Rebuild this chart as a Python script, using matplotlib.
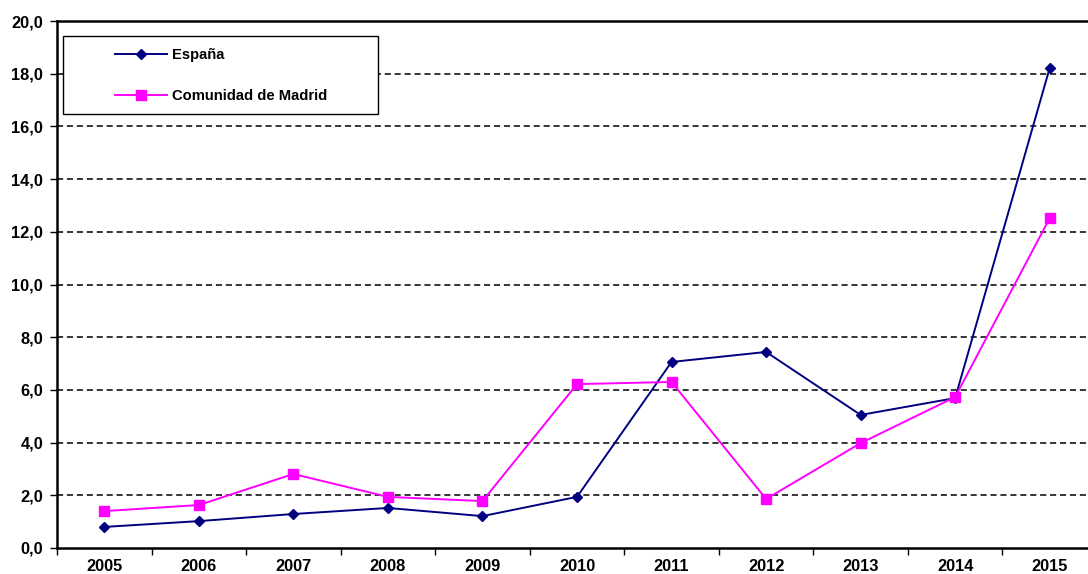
import matplotlib

matplotlib.use("Agg")
import matplotlib.pyplot as plt  # noqa: E402
import numpy as np  # noqa: E402
from matplotlib.patches import Rectangle  # noqa: E402
from matplotlib.ticker import FixedLocator, FuncFormatter  # noqa: E402

years = ["2005", "2006", "2007", "2008", "2009", "2010", "2011", "2012", "2013", "2014", "2015"]
espana = [0.80, 1.02, 1.29, 1.52, 1.21, 1.94, 7.06, 7.44, 5.05, 5.69, 18.22]
madrid = [1.40, 1.63, 2.81, 1.94, 1.78, 6.22, 6.30, 1.86, 3.98, 5.73, 12.52]

plt.rcParams["font.family"] = ["Liberation Sans", "DejaVu Sans"]

W, H = 1088, 574
fig = plt.figure(figsize=(W / 100, H / 100), dpi=100)
# plot area runs slightly past the right edge of the image
ax = fig.add_axes([57 / W, 1 - 548 / H, 1040 / W, 527 / H])

x = np.arange(len(years))
ax.plot(x, espana, color="#000080", marker="D", markersize=5.5, linewidth=1.4,
        label="España", clip_on=False, zorder=3)
ax.plot(x, madrid, color="#FF00FF", marker="s", markersize=7, linewidth=1.4,
        label="Comunidad de Madrid", clip_on=False, zorder=3)

ax.set_xlim(-0.5, len(years) - 0.5)
ax.set_ylim(0, 20)
ax.set_yticks(np.arange(0, 21, 2))
ax.yaxis.set_major_formatter(FuncFormatter(lambda v, p: f"{v:.1f}".replace(".", ",")))
ax.set_xticks(x)
ax.set_xticklabels(years)
ax.xaxis.set_minor_locator(FixedLocator(np.arange(-0.5, len(years), 1.0)))
ax.tick_params(axis="x", which="major", length=0, pad=8)
ax.tick_params(axis="x", which="minor", length=5, width=1, direction="out")
ax.tick_params(axis="y", length=5, width=1, direction="out", pad=5)
for lab in ax.get_xticklabels() + ax.get_yticklabels():
    lab.set_fontweight("bold")
    lab.set_fontsize(11.8)

for v in np.arange(2, 20, 2):
    ax.axhline(v, color="black", linestyle=(0, (4, 2.5)), linewidth=1.1, zorder=1)

for side in ("left", "bottom", "top"):
    ax.spines[side].set_linewidth(1.8)
ax.spines["right"].set_visible(False)

# legend box drawn by hand so its size matches the reference
box = Rectangle((63 / W, 1 - 114 / H), 315 / W, 78 / H, transform=fig.transFigure,
                facecolor="white", edgecolor="black", linewidth=1.0, zorder=4)
ax.add_artist(box)
leg = ax.legend(loc="upper left", bbox_to_anchor=(115 / W, 1 - 48 / H),
                bbox_transform=fig.transFigure, frameon=False,
                borderpad=0, borderaxespad=0, handlelength=3.5, handletextpad=0.4,
                labelspacing=1.85, prop={"weight": "bold", "size": 10.6})
leg.set_zorder(5)

fig.savefig("out.png", dpi=100)
plt.close(fig)
